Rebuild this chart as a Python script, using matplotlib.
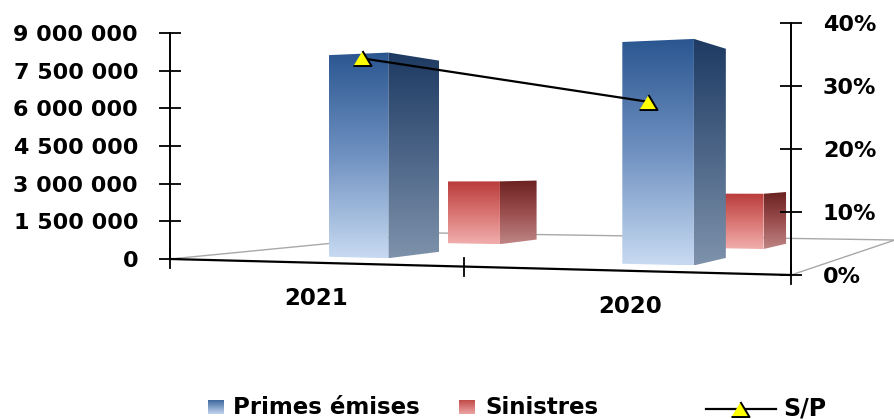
import numpy as np
import matplotlib
matplotlib.use('Agg')
import matplotlib.pyplot as plt
from matplotlib.patches import Polygon
from matplotlib.colors import LinearSegmentedColormap
from matplotlib.ticker import FuncFormatter, PercentFormatter

plt.rcParams['font.family'] = 'DejaVu Sans'
plt.rcParams['font.weight'] = 'bold'

# ========== Données ==========
years = ['2021', '2020']
primes = [8_170_000, 8_190_000]      # Primes émises
sinistres = [2_950_000, 2_400_000]   # Sinistres
sp_ratio = [0.344, 0.275]            # S/P

W, H = 895, 419
fig = plt.figure(figsize=(W / 100, H / 100), dpi=100)


def box(left, top, right, bottom):
    # boîte en pixels (origine en haut à gauche) -> fraction de figure
    return [left / W, 1 - bottom / H, (right - left) / W, (bottom - top) / H]


# toile en pixels pour la scène 3D
scene = fig.add_axes([0, 0, 1, 1])
scene.set_xlim(0, W)
scene.set_ylim(H, 0)
scene.set_autoscale_on(False)
scene.axis('off')

# axe principal (gauche)
ax_l = fig.add_axes(box(170, 33, 171, 259))
ax_l.set_ylim(0, 9_000_000)
ax_l.set_yticks(np.arange(0, 9_000_001, 1_500_000))
ax_l.yaxis.set_major_formatter(FuncFormatter(lambda v, _: f"{v:,.0f}".replace(",", " ")))
ax_l.set_xticks([])
for s in ['top', 'right', 'bottom']:
    ax_l.spines[s].set_visible(False)
ax_l.spines['left'].set_linewidth(1.4)
ax_l.tick_params(axis='y', direction='inout', length=16, width=1.3, pad=15, labelsize=16)
ax_l.patch.set_visible(False)

# axe secondaire (droite) pour S/P
ax_r = fig.add_axes(box(170, 23, 791, 275))
ax_r.set_ylim(0, 0.40)
ax_r.set_xlim(-0.671, 1.5)
ax_r.set_yticks([0, 0.1, 0.2, 0.3, 0.4])
ax_r.yaxis.set_major_formatter(PercentFormatter(1.0, decimals=0))
ax_r.yaxis.tick_right()
ax_r.set_xticks([])
for s in ['top', 'left', 'bottom']:
    ax_r.spines[s].set_visible(False)
ax_r.spines['right'].set_linewidth(1.4)
ax_r.tick_params(axis='y', direction='inout', length=16, width=1.3, pad=15, labelsize=16)
ax_r.patch.set_visible(False)

tri = [(-0.6, -0.5), (0.6, -0.5), (0, 0.5)]
ax_r.plot(range(len(years)), sp_ratio, '-', color='black', linewidth=1.6,
          marker=tri, markersize=13, markerfacecolor='#FFFF00',
          markeredgecolor='black', markeredgewidth=1.4, zorder=5)

# ========== Projection du plancher ==========
to_scene = scene.transData.inverted()
p0 = ax_l.transData.transform((0, 0))
p1 = ax_l.transData.transform((0, 9_000_000))
S0 = (p1[1] - p0[1]) / 9_000_000          # pixels par unité de valeur
FL = to_scene.transform(p0)
FR = to_scene.transform(ax_r.transAxes.transform((1, 0)))
BR = (895, 240)
BL = (437, 233)


def square_to_quad(q0, q1, q2, q3):
    (x0, y0), (x1, y1), (x2, y2), (x3, y3) = q0, q1, q2, q3
    dx1, dx2, dx3 = x1 - x2, x3 - x2, x0 - x1 + x2 - x3
    dy1, dy2, dy3 = y1 - y2, y3 - y2, y0 - y1 + y2 - y3
    den = dx1 * dy2 - dx2 * dy1
    g = (dx3 * dy2 - dx2 * dy3) / den
    h = (dx1 * dy3 - dx3 * dy1) / den
    return (x1 - x0 + g * x1, x3 - x0 + h * x3, x0,
            y1 - y0 + g * y1, y3 - y0 + h * y3, y0, g, h)


A, B, C, D, E, F, G, Hh = square_to_quad(FL, FR, BR, BL)


def proj(u, w, v=0.0):
    den = G * u + Hh * w + 1
    x = (A * u + B * w + C) / den
    y = (D * u + E * w + F) / den - v * S0 / den
    return x, y


def cat_u(i):
    return 0.017 + (i + 0.5) * 0.505


def draw_face(verts, colors, zorder):
    poly = Polygon(verts, closed=True, facecolor='none', edgecolor='none', zorder=zorder)
    scene.add_patch(poly)
    xs = [p[0] for p in verts]
    ys = [p[1] for p in verts]
    cmap = LinearSegmentedColormap.from_list('f', colors)
    grad = np.linspace(0, 1, 256)[:, None]
    im = scene.imshow(grad, cmap=cmap, extent=(min(xs), max(xs), max(ys), min(ys)),
                      aspect='auto', interpolation='bilinear', zorder=zorder)
    im.set_clip_path(poly)


def draw_bar(i, value, w0, w1, front, side, zorder):
    u0 = cat_u(i) - 0.055
    u1 = cat_u(i) + 0.055
    fr = [proj(u0, w0), proj(u1, w0), proj(u1, w0, value), proj(u0, w0, value)]
    sd = [proj(u1, w0), proj(u1, w1), proj(u1, w1, value), proj(u1, w0, value)]
    draw_face(sd, side, zorder)
    draw_face(fr, front, zorder + 0.1)


# plancher
gray = '#A8A8A8'
scene.plot([FL[0], BL[0], BR[0], FR[0]], [FL[1], BL[1], BR[1], FR[1]],
           color=gray, linewidth=1.0, zorder=1, clip_on=False)
scene.plot([FL[0], FR[0]], [FL[1], FR[1]], color='black', linewidth=1.6, zorder=8)
for u in [0, cat_u(0.5), 1]:
    x, y = proj(u, 0)
    scene.plot([x, x], [y - 9, y + 9], color='black', linewidth=1.3, zorder=8)

# barres : rangée arrière (sinistres) puis rangée avant (primes)
red_front = ['#B93C3A', '#D87472', '#F1AEAD']
red_side = ['#6A2221', '#9A4E4D', '#BE8584']
blue_front = ['#2A5690', '#6F91C1', '#C7DAF1']
blue_side = ['#1E3A62', '#4C6587', '#7E92AB']
for i in range(len(years)):
    draw_bar(i, sinistres[i], 0.60, 0.79, red_front, red_side, 2 + i)
for i in range(len(years)):
    draw_bar(i, primes[i], 0.14, 0.33, blue_front, blue_side, 4 + i)

# étiquettes des catégories
for i, yr in enumerate(years):
    x, y = proj(cat_u(i), 0)
    scene.text(x + 2, y + 36, yr, ha='center', va='center', fontsize=16.5, fontweight='bold')

# ========== Légende ==========
draw_face([(208, 400), (224, 400), (224, 414), (208, 414)], ['#3E679E', '#C2D5EE'], 9)
scene.text(233, 414, 'Primes émises', va='baseline', fontsize=16.5, fontweight='bold')
draw_face([(459, 400), (475, 400), (475, 414), (459, 414)], ['#C04A48', '#EDA5A4'], 9)
scene.text(485, 414, 'Sinistres', va='baseline', fontsize=16.5, fontweight='bold')
scene.plot([706, 776], [409, 409], color='black', linewidth=1.6, zorder=9)
scene.plot([740], [409], marker=tri, markersize=13, markerfacecolor='#FFFF00',
           markeredgecolor='black', markeredgewidth=1.4, zorder=10)
scene.text(783, 415, 'S/P', va='baseline', fontsize=17, fontweight='bold')

fig.savefig('out.png', dpi=100)
